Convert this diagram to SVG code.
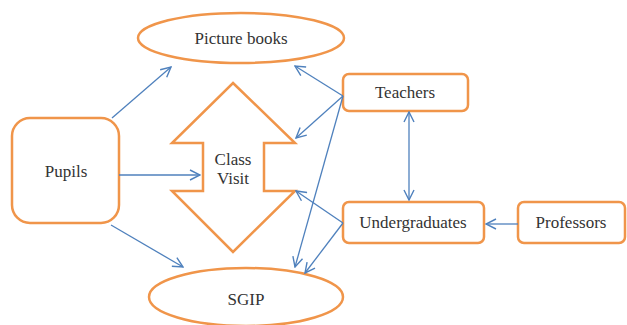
<svg xmlns="http://www.w3.org/2000/svg" width="627" height="325" viewBox="0 0 627 325">
<defs>
<style>
.n{fill:#fff;stroke:#f0954a;stroke-width:2.5}
.t{font-family:"Liberation Serif","DejaVu Serif",serif;font-size:17px;fill:#333;text-anchor:middle;dominant-baseline:central}
.c{stroke:#4f81bd;stroke-width:1.3;fill:none}
</style>
<marker id="ah" viewBox="0 0 12 12" refX="11" refY="6" markerWidth="12" markerHeight="12" markerUnits="userSpaceOnUse" orient="auto-start-reverse">
<path d="M1,1 L11,6 L1,11" fill="none" stroke="#4f81bd" stroke-width="1.4"/>
</marker>
</defs>
<rect width="627" height="325" fill="#fff"/>
<g id="picture-books"><ellipse class="n" cx="241" cy="38" rx="103" ry="25"/><text class="t" x="241" y="38">Picture books</text></g>
<g id="pupils"><rect class="n" x="12" y="118" width="107" height="105" rx="18"/><text class="t" x="66" y="171">Pupils</text></g>
<g id="class-visit"><path class="n" d="M233,83 L295,143 L264,143 L264,191 L295,191 L233,252 L172,191 L203,191 L203,143 L172,143 Z"/><text class="t" x="233" y="159">Class</text><text class="t" x="233" y="178">Visit</text></g>
<g id="sgip"><ellipse class="n" cx="246" cy="297" rx="97" ry="29"/><text class="t" x="246" y="299">SGIP</text></g>
<g id="teachers"><rect class="n" x="343" y="74" width="125" height="37" rx="6"/><text class="t" x="405" y="92">Teachers</text></g>
<g id="undergraduates"><rect class="n" x="343" y="202" width="141" height="41" rx="6"/><text class="t" x="413" y="222">Undergraduates</text></g>
<g id="professors"><rect class="n" x="518" y="202" width="107" height="41" rx="6"/><text class="t" x="571" y="222">Professors</text></g>
<g id="connectors">
<line class="c" x1="112" y1="118" x2="171" y2="67" marker-end="url(#ah)"/>
<line class="c" x1="119" y1="175" x2="200" y2="175" marker-end="url(#ah)"/>
<line class="c" x1="111" y1="225" x2="183" y2="267" marker-end="url(#ah)"/>
<line class="c" x1="343" y1="96" x2="295" y2="66" marker-end="url(#ah)"/>
<line class="c" x1="343" y1="96" x2="296" y2="138" marker-end="url(#ah)"/>
<line class="c" x1="343" y1="96" x2="295" y2="267" marker-end="url(#ah)"/>
<line class="c" x1="343" y1="223" x2="296" y2="191" marker-end="url(#ah)"/>
<line class="c" x1="343" y1="223" x2="305" y2="273" marker-end="url(#ah)"/>
<line class="c" x1="409" y1="112" x2="409" y2="200" marker-start="url(#ah)" marker-end="url(#ah)"/>
<line class="c" x1="518" y1="224" x2="486" y2="224" marker-end="url(#ah)"/>
</g>
</svg>
